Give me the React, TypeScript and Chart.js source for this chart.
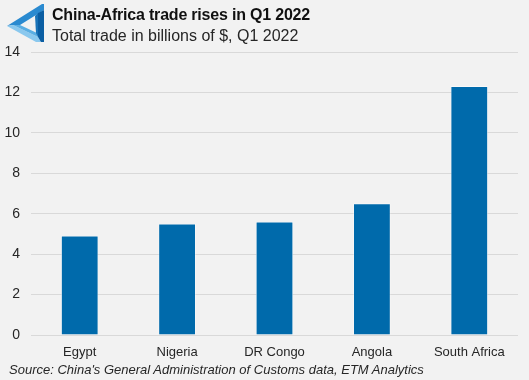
import React, { useEffect, useRef } from "react";
import { Chart, registerables } from "chart.js";

Chart.register(...registerables);

const categories = ["Egypt", "Nigeria", "DR Congo", "Angola", "South Africa"];
const tradeValues = [4.9, 5.5, 5.6, 6.5, 12.3];
const yTicks = [0, 2, 4, 6, 8, 10, 12, 14];

const titleText = "China-Africa trade rises in Q1 2022";
const subtitleText = "Total trade in billions of $, Q1 2022";
const sourceText = "Source: China's General Administration of Customs data, ETM Analytics";

const FONT = "'Liberation Sans', Arial, sans-serif";
const TEXT = "#262626";

export default function App() {
  const ref = useRef<HTMLCanvasElement | null>(null);

  useEffect(() => {
    document.body.style.margin = "0";
    const canvas = ref.current;
    if (!canvas) return;
    const chart = new Chart(canvas, {
      type: "bar",
      data: {
        labels: categories,
        datasets: [
          {
            data: tradeValues,
            backgroundColor: "#006aab",
            borderColor: "#ffffff",
            borderWidth: 0.6,
            barPercentage: 0.76,
            categoryPercentage: 0.5,
          },
        ],
      },
      options: {
        animation: false,
        responsive: false,
        maintainAspectRatio: false,
        devicePixelRatio: 1,
        layout: { padding: { top: 52, right: 11, left: 0, bottom: 0 } },
        plugins: {
          legend: { display: false },
          tooltip: { enabled: false },
          title: { display: false },
        },
        scales: {
          x: {
            grid: { display: false, drawTicks: false },
            border: { display: false },
            ticks: {
              color: TEXT,
              font: { family: FONT, size: 13 },
              padding: 10,
              maxRotation: 0,
            },
            afterFit: (s: any) => {
              s.height = 45;
            },
          },
          y: {
            min: 0,
            max: 14,
            afterBuildTicks: (s: any) => {
              s.ticks = yTicks.map((v) => ({ value: v }));
            },
            grid: { color: "#d9d9d9", lineWidth: 1, drawTicks: false },
            border: { display: false },
            ticks: {
              color: TEXT,
              font: { family: FONT, size: 14 },
              padding: 11,
            },
            afterFit: (s: any) => {
              s.width = 31;
            },
          },
        },
      },
    });
    return () => chart.destroy();
  }, []);

  return (
    <div
      style={{
        position: "relative",
        width: 529,
        height: 380,
        background: "#f2f2f2",
        overflow: "hidden",
      }}
    >
      <canvas
        ref={ref}
        width={529}
        height={380}
        style={{ position: "absolute", left: 0, top: 0, width: 529, height: 380 }}
      />
      <svg
        width={50}
        height={46}
        style={{ position: "absolute", left: 0, top: 0 }}
        viewBox="0 0 50 46"
      >
        {/* top bar */}
        <path d="M7 26 L42 4 L44 4 L44 10 L20 25 L13 25 Z" fill="#2a8ad0" />
        {/* bottom bar */}
        <path d="M7 26 L13 25 L38 37 L41 42 L36 42 Z" fill="#8ac8ee" />
        <path d="M13 25 L20 25 L37 33 L38 37 Z" fill="#5aaee3" />
        {/* right bar */}
        <path d="M44 4 L44 42 L41 42 L38 37 L38 13 L44 10 Z" fill="#0b5ea3" />
        <path d="M38 13 L38 37 L36 33 L35 16 Z" fill="#1a73b8" />
      </svg>
      <div
        style={{
          position: "absolute",
          left: 52,
          top: 5,
          fontFamily: FONT,
          fontWeight: "bold",
          fontSize: 16,
          letterSpacing: "-0.2px",
          color: "#111",
          whiteSpace: "nowrap",
          lineHeight: "20px",
        }}
      >
        {titleText}
      </div>
      <div
        style={{
          position: "absolute",
          left: 52,
          top: 26,
          fontFamily: FONT,
          fontSize: 16,
          color: TEXT,
          whiteSpace: "nowrap",
          lineHeight: "20px",
        }}
      >
        {subtitleText}
      </div>
      <div
        style={{
          position: "absolute",
          left: 9,
          top: 362,
          fontFamily: FONT,
          fontStyle: "italic",
          fontSize: 13,
          color: TEXT,
          whiteSpace: "nowrap",
          lineHeight: "16px",
        }}
      >
        {sourceText}
      </div>
    </div>
  );
}
